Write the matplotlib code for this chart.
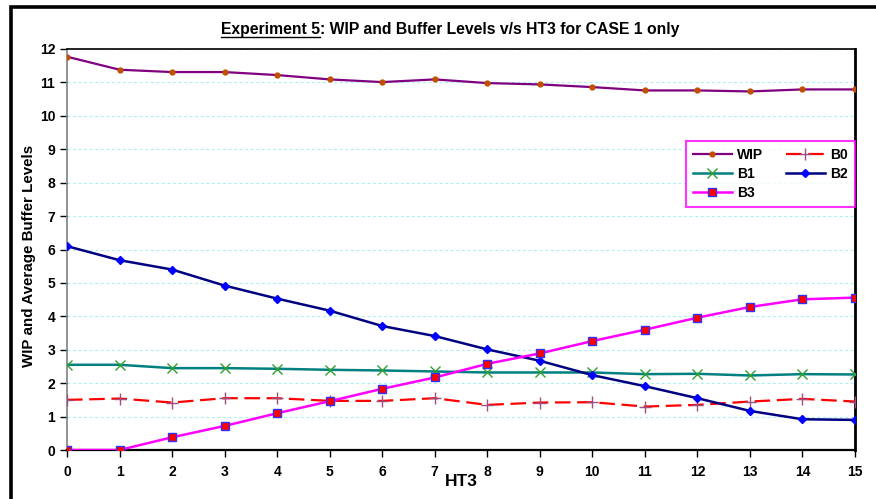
import matplotlib
matplotlib.use("Agg")
import matplotlib.pyplot as plt
from matplotlib.patches import Rectangle
from matplotlib.lines import Line2D

# HT3 settings and measured levels
ht3 = list(range(16))
wip = [11.77, 11.38, 11.31, 11.31, 11.22, 11.09, 11.01, 11.09, 10.98, 10.94,
       10.86, 10.76, 10.76, 10.73, 10.79, 10.79]
b0 = [1.50, 1.54, 1.42, 1.55, 1.55, 1.47, 1.47, 1.55, 1.35, 1.42,
      1.43, 1.30, 1.35, 1.45, 1.53, 1.45]
b1 = [2.55, 2.55, 2.45, 2.45, 2.43, 2.40, 2.38, 2.35, 2.32, 2.32,
      2.32, 2.27, 2.28, 2.23, 2.27, 2.26]
b2 = [6.10, 5.68, 5.40, 4.92, 4.53, 4.17, 3.71, 3.41, 3.01, 2.67,
      2.24, 1.91, 1.55, 1.17, 0.92, 0.90]
b3 = [0.00, 0.00, 0.38, 0.72, 1.10, 1.46, 1.83, 2.17, 2.58, 2.89,
      3.26, 3.60, 3.96, 4.28, 4.51, 4.56]
y_ticks = list(range(13))

plt.rcParams['font.family'] = ['Liberation Sans', 'DejaVu Sans']

W, H = 876, 499
fig = plt.figure(figsize=(W / 100, H / 100), dpi=100)
ax = fig.add_axes([67 / W, 1 - 450 / H, (855 - 67) / W, (450 - 49) / H])

# outer chart frame (left and top edges visible)
fig.patches.append(Rectangle((11 / W, -0.1), 1.2, 1 - 7 / H + 0.1,
                             transform=fig.transFigure, fill=False,
                             edgecolor='black', linewidth=2.6, zorder=0))

ax.plot(ht3, wip, color='#800080', lw=1.6, marker='o', ms=3.5,
        mfc='#c05000', mec='#c05000', label='WIP', zorder=4)
ax.plot(ht3, b0, color='#ff0000', lw=1.6, dashes=(7, 3), marker='+', ms=8,
        mew=1.0, mec='#a05080', label='B0', zorder=3)
ax.plot(ht3, b1, color='#008080', lw=1.8, marker='x', ms=7, mew=1.0,
        mec='#30a030', label='B1', zorder=3)
ax.plot(ht3, b2, color='#000080', lw=1.8, marker='D', ms=4.5,
        mfc='#0000ff', mec='#0000ff', label='B2', zorder=4)
ax.plot(ht3, b3, color='#ff00ff', lw=1.8, marker='s', ms=5.5,
        mfc='#ff0000', mec='#3030ff', mew=1.0, label='B3', zorder=5)

ax.set_xlim(0, 15)
ax.set_ylim(0, 12)
ax.set_xticks(ht3)
ax.set_yticks(y_ticks)
ax.tick_params(axis='both', direction='out', length=5, width=1,
               labelsize=10, colors='black')
ax.tick_params(axis='x', pad=6)
for lab in ax.get_xticklabels() + ax.get_yticklabels():
    lab.set_fontweight('bold')

ax.grid(axis='y', color='#a8f0f0', linestyle=(0, (2.5, 2.5)), linewidth=0.8)
ax.set_axisbelow(True)

ax.spines['left'].set_color('#808080')
ax.spines['left'].set_linewidth(1.2)
ax.spines['bottom'].set_linewidth(1.6)
ax.spines['top'].set_linewidth(1.2)
ax.spines['right'].set_linewidth(2.0)

ax.set_ylabel('WIP and Average Buffer Levels', fontsize=10.9,
              fontweight='bold')
ax.yaxis.set_label_coords((29 - 67) / 788, (450 - 256) / 401)
ax.set_xlabel('HT3', fontsize=12.5, fontweight='bold')
ax.xaxis.set_label_coords(0.5, -(482 - 450) / 401)
ax.xaxis.label.set_va('center')
ax.yaxis.label.set_va('center')

h, l = ax.get_legend_handles_labels()
order = [0, 2, 4, 1, 3]
leg = ax.legend([h[i] for i in order], [l[i] for i in order], ncol=2,
                loc='upper left',
                bbox_to_anchor=((686 - 67) / 788, 1 - (141 - 49) / 401),
                borderaxespad=0, frameon=True, fancybox=False,
                edgecolor='#ff00ff', prop={'weight': 'bold', 'size': 10},
                handlelength=2.8, columnspacing=1.6, labelspacing=0.35,
                borderpad=0.5, handletextpad=0.4)
leg.get_frame().set_linewidth(1.5)

# title: underlined lead-in followed by the rest
fig.canvas.draw()
r = fig.canvas.get_renderer()
t1 = fig.text(0, 0, 'Experiment 5', fontsize=11.3, fontweight='bold')
t2 = fig.text(0, 0, ': WIP and Buffer Levels v/s HT3 for CASE 1 only',
              fontsize=11.3, fontweight='bold')
w1 = t1.get_window_extent(r).width
w2 = t2.get_window_extent(r).width
cx, cy = 450, H - 34
x0 = cx - (w1 + w2) / 2
t1.set_position((x0 / W, cy / H))
t2.set_position(((x0 + w1) / W, cy / H))
fig.add_artist(Line2D([x0 / W, (x0 + w1) / W], [(cy - 2.5) / H, (cy - 2.5) / H],
                      color='black', lw=1.0, transform=fig.transFigure))

fig.savefig('out.png', dpi=100)
